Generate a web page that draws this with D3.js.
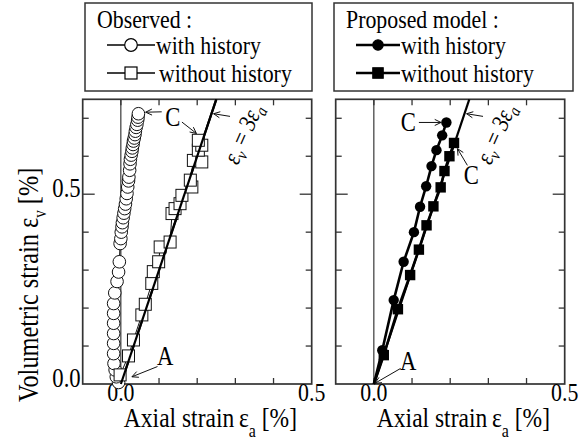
<!DOCTYPE html>
<meta charset="utf-8">
<style>
  body { margin: 0; background: #fff; }
  svg text { font-family: "Liberation Serif", "Times New Roman", serif; fill: #000; }
</style>
<svg width="587" height="441"></svg>
<script src="https://d3js.org/d3.v7.min.js"></script>
<script>

// ---- data (strain values in %) ----
var xTickVals = [-0.1, 0.0, 0.1, 0.2, 0.3, 0.4, 0.5];
var yTickVals = [0.1, 0.2, 0.3, 0.4, 0.5, 0.6, 0.7];
var xTickLabels = [0.0, 0.5];
var yTickLabels = [0.0, 0.5];
var ratio = 3; // ev = 3 ea

var obsWithHist = [
  [-0.006, 0.004], [-0.012, 0.019], [-0.015, 0.037], [-0.018, 0.054], [-0.019, 0.080],
  [-0.019, 0.107], [-0.019, 0.133], [-0.019, 0.160], [-0.019, 0.186], [-0.019, 0.212],
  [-0.016, 0.240], [-0.010, 0.270], [-0.006, 0.295], [-0.004, 0.322], [-0.002, 0.370],
  [0.000, 0.383], [0.001, 0.400], [0.003, 0.414], [0.004, 0.425], [0.006, 0.438],
  [0.008, 0.450], [0.010, 0.462], [0.012, 0.474], [0.014, 0.488], [0.016, 0.502],
  [0.018, 0.519], [0.020, 0.535], [0.021, 0.545], [0.023, 0.563], [0.024, 0.580],
  [0.025, 0.592], [0.027, 0.603], [0.029, 0.613], [0.030, 0.622], [0.032, 0.631],
  [0.033, 0.640], [0.035, 0.648], [0.037, 0.657], [0.038, 0.666], [0.040, 0.676],
  [0.042, 0.684], [0.044, 0.695], [0.045, 0.703], [0.046, 0.712]
];
var obsWithoutHist = [
  [-0.002, 0.024], [0.020, 0.074], [0.033, 0.116], [0.055, 0.182], [0.064, 0.210],
  [0.081, 0.265], [0.085, 0.296], [0.099, 0.322], [0.103, 0.361], [0.129, 0.374],
  [0.134, 0.449], [0.142, 0.462], [0.155, 0.475], [0.160, 0.497], [0.186, 0.519],
  [0.182, 0.537], [0.190, 0.589], [0.212, 0.585], [0.203, 0.616], [0.212, 0.629],
  [0.203, 0.642]
];
var modelWithHist = [
  [0, 0], [0.022, 0.089], [0.052, 0.221], [0.078, 0.322], [0.105, 0.400], [0.121, 0.467],
  [0.137, 0.521], [0.151, 0.574], [0.164, 0.616], [0.179, 0.655], [0.190, 0.689]
];
var modelWithoutHist = [
  [0, 0], [0.026, 0.076], [0.063, 0.197], [0.095, 0.287], [0.118, 0.354], [0.138, 0.418],
  [0.156, 0.468], [0.175, 0.518], [0.185, 0.561], [0.198, 0.600], [0.210, 0.635]
];

// ---- layout ----
var SX = 0.84; // glyphs in the original are narrow and tall
var svg = d3.select("svg");
var yTop = 99.3, yBot = 384, plotW = 229;

function txt(g, x, y, s, size, anchor, extra) {
  var t = g.append("text")
      .attr("transform", "translate(" + x + "," + y + ")" + (extra || "") + " scale(" + SX + ",1)")
      .style("font-size", size + "px")
      .attr("text-anchor", anchor || "start");
  if (s != null) t.text(s);
  return t;
}

function arrow(g, p1, p2) {
  g.append("line").attr("x1", p1[0]).attr("y1", p1[1]).attr("x2", p2[0]).attr("y2", p2[1])
      .attr("stroke", "#111").attr("stroke-width", 1);
  var a = Math.atan2(p2[1] - p1[1], p2[0] - p1[0]), L = 7, w = 0.45;
  [a + w, a - w].forEach(function(b) {
    g.append("line").attr("x1", p2[0]).attr("y1", p2[1])
        .attr("x2", p2[0] - L * Math.cos(b)).attr("y2", p2[1] - L * Math.sin(b))
        .attr("stroke", "#111").attr("stroke-width", 1);
  });
}

function panel(x0, opts) {
  var g = svg.append("g");
  var x = d3.scaleLinear().domain([-0.1, 0.5]).range([x0, x0 + plotW]);
  var y = d3.scaleLinear().domain([0, 0.75]).range([yBot, yTop]);
  var P = function(d) { return [x(d[0]), y(d[1])]; };

  // zero line
  g.append("line").attr("x1", x(0)).attr("x2", x(0)).attr("y1", y(0)).attr("y2", y(0.75))
      .attr("stroke", "#111").attr("stroke-width", 1);

  // ticks
  xTickVals.slice(1, -1).forEach(function(v) {
    g.append("line").attr("x1", x(v)).attr("x2", x(v)).attr("y1", y(0)).attr("y2", y(0) - 6).attr("stroke", "#333").attr("stroke-width", 1.3);
    g.append("line").attr("x1", x(v)).attr("x2", x(v)).attr("y1", y(0.75)).attr("y2", y(0.75) + 6).attr("stroke", "#333").attr("stroke-width", 1.3);
  });
  yTickVals.forEach(function(v) {
    var len = Math.abs(v - 0.5) < 1e-9 ? 12 : 6;
    g.append("line").attr("x1", x(-0.1)).attr("x2", x(-0.1) + len).attr("y1", y(v)).attr("y2", y(v)).attr("stroke", "#333").attr("stroke-width", 1.3);
    g.append("line").attr("x1", x(0.5)).attr("x2", x(0.5) - len).attr("y1", y(v)).attr("y2", y(v)).attr("stroke", "#333").attr("stroke-width", 1.3);
  });

  // frame
  g.append("rect").attr("x", x(-0.1)).attr("y", y(0.75))
      .attr("width", x(0.5) - x(-0.1)).attr("height", y(0) - y(0.75))
      .attr("fill", "none").attr("stroke", "#333").attr("stroke-width", 1.7);

  // tick labels
  xTickLabels.forEach(function(v) { txt(g, x(v), y(0) + 17, v.toFixed(1), 26, "middle"); });
  if (opts.yLabels) {
    yTickLabels.forEach(function(v) { txt(g, x(-0.1) - 2, y(v) + 3, v.toFixed(1), 27, "end"); });
  }

  // x axis title
  var t = txt(g, x(0) + 3, 426.5, null, 28, "start");
  t.append("tspan").text("Axial strain\u2009\u03b5");
  t.append("tspan").attr("dy", 10).style("font-size", "19px").text("a");
  t.append("tspan").attr("dy", -10).text(" [%]");

  // ev = 3 ea reference line
  var line = d3.line().x(function(d) { return x(d[0]); }).y(function(d) { return y(d[1]); });
  g.append("path").datum([[0, 0], [0.75 / ratio, 0.75]]).attr("d", line)
      .attr("fill", "none").attr("stroke", "#000").attr("stroke-width", 2.2);

  // label for reference line
  var s0 = P([0.306, 0.575]);
  var lt = txt(g, s0[0], s0[1], null, 25, "start", " rotate(-66)").style("font-style", "italic");
  lt.append("tspan").text("\u03b5");
  lt.append("tspan").attr("dy", 5).style("font-size", "17px").text("v");
  lt.append("tspan").attr("dy", -5).text("\u2009=\u20093\u03b5");
  lt.append("tspan").attr("dy", 5).style("font-size", "17px").text("a");
  arrow(g, P([0.286, 0.705]), P([0.243, 0.712]));

  opts.draw(g, x, y, P, line);
  return g;
}

// ---- left panel: observed ----
panel(82.7, {
  yLabels: true,
  draw: function(g, x, y, P, line) {
    g.append("path").datum(obsWithHist).attr("d", line).attr("fill", "none").attr("stroke", "#111").attr("stroke-width", 1);
    g.selectAll(".oc").data(obsWithHist).enter().append("circle")
        .attr("cx", function(d) { return x(d[0]); }).attr("cy", function(d) { return y(d[1]); })
        .attr("r", 6.3).attr("fill", "#fff").attr("stroke", "#111").attr("stroke-width", 1);
    g.append("path").datum(obsWithoutHist).attr("d", line).attr("fill", "none").attr("stroke", "#111").attr("stroke-width", 1);
    g.selectAll(".os").data(obsWithoutHist).enter().append("rect")
        .attr("x", function(d) { return x(d[0]) - 6; }).attr("y", function(d) { return y(d[1]) - 6; })
        .attr("width", 12).attr("height", 12).attr("fill", "#fff").attr("stroke", "#111").attr("stroke-width", 1);
    // reference line stays on top of the open markers
    g.append("path").datum([[0, 0], [0.75 / ratio, 0.75]]).attr("d", line)
        .attr("fill", "none").attr("stroke", "#000").attr("stroke-width", 2.2);

    var c = P([0.136, 0.680]);
    txt(g, c[0], c[1], "C", 27, "middle");
    arrow(g, P([0.107, 0.717]), P([0.065, 0.716]));
    arrow(g, P([0.160, 0.690]), P([0.198, 0.660]));
    var a = P([0.116, 0.05]);
    txt(g, a[0], a[1], "A", 27, "middle");
    arrow(g, P([0.096, 0.046]), P([0.029, 0.019]));
  }
});

// ---- right panel: proposed model ----
panel(335.7, {
  yLabels: false,
  draw: function(g, x, y, P, line) {
    [modelWithHist, modelWithoutHist].forEach(function(s) {
      g.append("path").datum(s).attr("d", line).attr("fill", "none").attr("stroke", "#000").attr("stroke-width", 2.6);
    });
    g.selectAll(".mc").data(modelWithHist.filter(function(d) { return d[1] > 0; })).enter().append("circle")
        .attr("cx", function(d) { return x(d[0]); }).attr("cy", function(d) { return y(d[1]); })
        .attr("r", 5.2).attr("fill", "#000");
    g.selectAll(".ms").data(modelWithoutHist.filter(function(d) { return d[1] > 0; })).enter().append("rect")
        .attr("x", function(d) { return x(d[0]) - 5.2; }).attr("y", function(d) { return y(d[1]) - 5.2; })
        .attr("width", 10.4).attr("height", 10.4).attr("fill", "#000");

    var c1 = P([0.090, 0.666]);
    txt(g, c1[0], c1[1], "C", 27, "middle");
    arrow(g, P([0.118, 0.689]), P([0.176, 0.689]));
    var c2 = P([0.255, 0.527]);
    txt(g, c2[0], c2[1], "C", 27, "middle");
    arrow(g, P([0.245, 0.576]), P([0.219, 0.620]));
    var a = P([0.09, 0.037]);
    txt(g, a[0], a[1], "A", 27, "middle");
    arrow(g, P([0.07, 0.041]), P([0.003, 0.002]));
  }
});

// ---- y axis title ----
var yt = txt(svg, 38, 402, null, 29, "start", " rotate(-90)");
yt.append("tspan").text("Volumetric strain \u03b5");
yt.append("tspan").attr("dy", 8).style("font-size", "18px").text("v");
yt.append("tspan").attr("dy", -8).text(" [%]");

// ---- legends ----
function legend(bx, bw, title, filled) {
  var g = svg.append("g");
  g.append("rect").attr("x", bx).attr("y", 3).attr("width", bw).attr("height", 88)
      .attr("fill", "#fff").attr("stroke", "#333").attr("stroke-width", 1.5);
  txt(g, bx + 12, 28, title, 26, "start");
  var lx0 = bx + 22, lx1 = bx + (filled ? 66 : 70);
  var sw = filled ? 2.6 : 1.4;
  // row 1: circle
  g.append("line").attr("x1", lx0).attr("x2", lx1).attr("y1", 45).attr("y2", 45).attr("stroke", "#000").attr("stroke-width", sw);
  g.append("circle").attr("cx", (lx0 + lx1) / 2).attr("cy", 45).attr("r", filled ? 5.2 : 6.3)
      .attr("fill", filled ? "#000" : "#fff").attr("stroke", "#000").attr("stroke-width", 1.2);
  txt(g, lx1 + 1, 54, "with history", 26, "start");
  // row 2: square
  g.append("line").attr("x1", lx0).attr("x2", lx1).attr("y1", 73).attr("y2", 73).attr("stroke", "#000").attr("stroke-width", sw);
  var sq = filled ? 10.4 : 12;
  g.append("rect").attr("x", (lx0 + lx1) / 2 - sq / 2).attr("y", 73 - sq / 2).attr("width", sq).attr("height", sq)
      .attr("fill", filled ? "#000" : "#fff").attr("stroke", "#000").attr("stroke-width", 1.2);
  txt(g, lx1 + (filled ? 1 : 4), 82, "without history", 26, "start");
}
legend(85, 227, "Observed :", false);
legend(334, 239, "Proposed model :", true);

</script>
